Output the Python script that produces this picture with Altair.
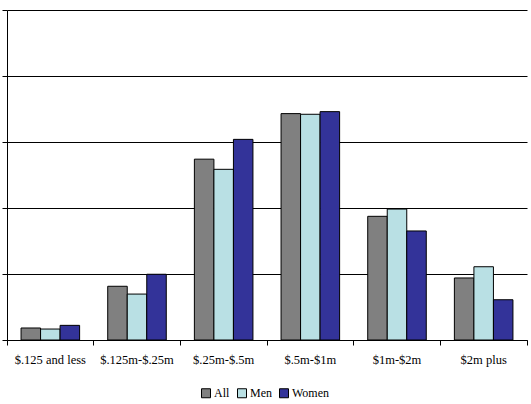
import altair as alt
import pandas as pd

categories = ["$.125 and less", "$.125m-$.25m", "$.25m-$.5m", "$.5m-$1m", "$1m-$2m", "$2m plus"]
series = ["All", "Men", "Women"]
all_vals = [0.91, 4.07, 13.7, 17.15, 9.37, 4.7]
men_vals = [0.83, 3.48, 12.93, 17.1, 9.92, 5.55]
women_vals = [1.11, 4.98, 15.2, 17.3, 8.26, 3.05]
colors = ["#808080", "#B9E0E4", "#333399"]

rows = []
for s, vals in zip(series, [all_vals, men_vals, women_vals]):
    for c, v in zip(categories, vals):
        rows.append({"category": c, "series": s, "value": v})
df = pd.DataFrame(rows)

FONT = "Liberation Serif"
W, H = 520, 330

chart = alt.Chart(df).mark_bar(stroke="black", strokeWidth=1).encode(
    x=alt.X("category:N", sort=categories, title=None,
            scale=alt.Scale(paddingInner=0, paddingOuter=0),
            axis=alt.Axis(labelAngle=0, bandPosition=1, tickExtra=True,
                          tickSize=5, tickColor="black",
                          domainColor="black", labelFont=FONT,
                          labelFontSize=12.5, labelColor="black", labelPadding=8,
                          grid=False)),
    xOffset=alt.XOffset("series:N", sort=series,
                        scale=alt.Scale(paddingOuter=0.72, paddingInner=0)),
    y=alt.Y("value:Q", title=None,
            scale=alt.Scale(domain=[0, 25], nice=False),
            axis=alt.Axis(values=[0, 5, 10, 15, 20, 25], labels=False, tickSize=5,
                          tickColor="black", domainColor="black",
                          grid=True, gridColor="black", gridOpacity=1)),
    color=alt.Color("series:N", sort=series,
                    scale=alt.Scale(domain=series, range=colors),
                    legend=alt.Legend(title=None, orient="none", direction="horizontal",
                                      legendX=193, legendY=377,
                                      symbolType="square", symbolStrokeColor="black",
                                      symbolStrokeWidth=1, symbolSize=81,
                                      symbolOpacity=1,
                                      labelFont=FONT, labelFontSize=12,
                                      labelColor="black", columnPadding=5,
                                      labelOffset=2)),
).properties(
    width=W, height=H,
    autosize=alt.AutoSizeParams(type="none"),
    padding={"left": 7, "top": 10, "right": 4, "bottom": 64},
).configure_view(stroke=None).configure_axis(domainWidth=1, gridWidth=1)

chart.save("out.html", embed_options={"renderer": "svg", "actions": False})
